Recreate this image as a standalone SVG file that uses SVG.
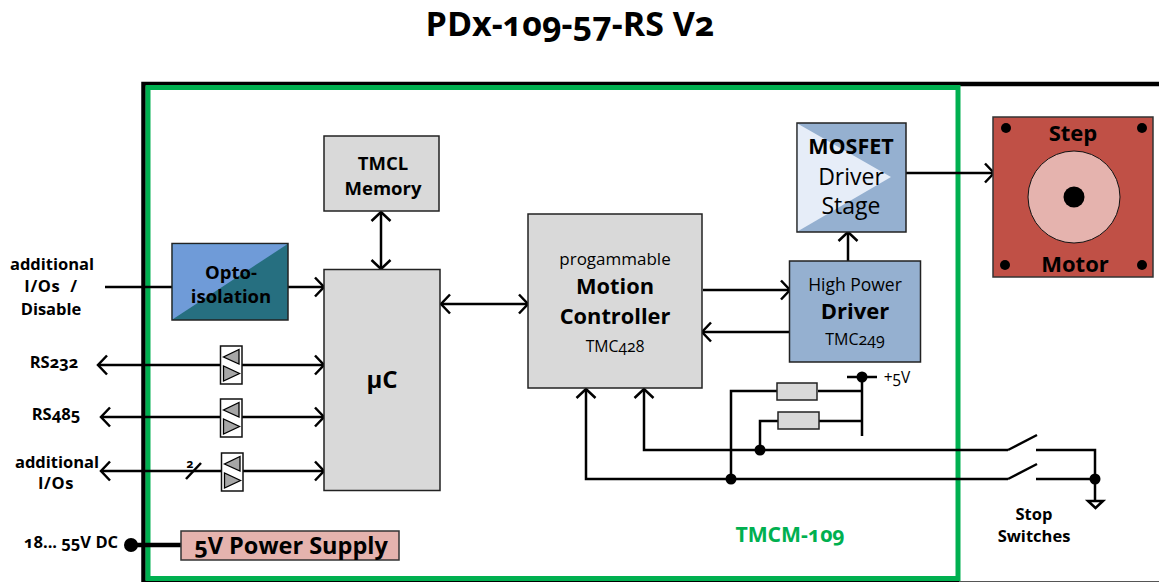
<svg xmlns="http://www.w3.org/2000/svg" width="1159" height="582" viewBox="0 0 1159 582">
<style>
text{font-family:"Open Sans","Lato","Noto Sans",sans-serif;font-variant-numeric:oldstyle-nums;fill:#000;text-anchor:middle}
.b{font-weight:700}
.box{stroke:#222;stroke-width:1.5}
.grey{fill:#d9d9d9}
.blue{fill:#95b0d0}
.w{fill:none;stroke:#000;stroke-width:2.5}
.a{marker-end:url(#ah)}
.ab{marker-start:url(#ah);marker-end:url(#ah)}
.tx{fill:#fff;stroke:#111;stroke-width:1.5}
.tri{fill:#a6a6a6;stroke:#000;stroke-width:1.3}
</style>
<defs>
<marker id="ah" markerUnits="userSpaceOnUse" markerWidth="24" markerHeight="24" refX="11" refY="12" orient="auto-start-reverse" viewBox="0 0 24 24"><path d="M2,2.500L11,12L2,21.500" fill="none" stroke="#000" stroke-width="2.500"/></marker>
<g id="tr"><rect class="tx" x="0" y="0" width="21.500" height="38"/><path class="tri" d="M18.500,3.500V18L3,11Z"/><path class="tri" d="M3,20V35L19,27.500Z"/></g>
</defs>
<text class="b" x="570" y="36" font-size="34">PDx-109-57-RS V2</text>
<g id="frame"><path d="M143.500,582V84H1159" fill="none" stroke="#000" stroke-width="4.500"/><path d="M143,581.200H959" stroke="#000" stroke-width="2"/><path d="M959,581.500H1159" stroke="#555" stroke-width="1"/></g>
<g id="module"><rect x="148" y="87.500" width="810" height="491" fill="none" stroke="#00b050" stroke-width="5"/>
<text class="b" x="790" y="542" font-size="21.200" style="fill:#00b050">TMCM-109</text></g>
<g id="connectors">
<path class="w a" d="M105,287H324"/>
<path class="w ab" d="M98,365H324"/>
<path class="w ab" d="M101,417H324"/>
<path class="w ab" d="M101,471H324"/>
<path class="w" d="M186,479L201,463"/>
<path class="w ab" d="M381,212V269"/>
<path class="w ab" d="M441,304H528"/>
<path class="w a" d="M703,290H790"/>
<path class="w a" d="M790,332H702"/>
<path class="w a" d="M848,261V232"/>
<path class="w a" d="M906,173H994"/>
<path d="M131,545H181" stroke="#000" stroke-width="4.500"/>
<circle cx="131" cy="545" r="7"/>
<path class="w a" d="M1008,479H586V389"/>
<path class="w a" d="M1008,450H644V389"/>
<path class="w" d="M1008,450L1037,435M1036,450H1095V501M1008,479L1037,464M1036,479H1095"/>
<path class="w" d="M731,479V391H778M818,391H862M847,377H877M862,377V436M760,450V421H778M818,421H862"/>
<circle cx="862" cy="377" r="5.500"/><circle cx="760" cy="450" r="5.500"/><circle cx="731" cy="479" r="5.500"/><circle cx="1095" cy="479" r="5.500"/>
<path d="M1088,501H1103L1095.500,508Z" fill="#fff" stroke="#000" stroke-width="2.500"/>
</g>
<g id="opto"><rect class="box" x="172" y="243.500" width="116" height="76.500" fill="#266f80"/><path d="M172.800,319.300V244.300H287.200Z" fill="#6f9bd8"/>
<text class="b" x="231" y="279" font-size="18.500">Opto-</text><text class="b" x="231" y="303" font-size="18.500">isolation</text></g>
<g id="memory"><rect class="box grey" x="324" y="136" width="115" height="75"/>
<text class="b" x="383" y="170" font-size="18.500">TMCL</text><text class="b" x="383" y="195" font-size="18.500">Memory</text></g>
<g id="uc"><rect class="box grey" x="324" y="269.500" width="116" height="221"/>
<text class="b" x="382" y="388" font-size="24">µC</text></g>
<g id="controller"><rect class="box grey" x="528" y="214" width="174" height="174"/>
<text x="615" y="265" font-size="17">progammable</text>
<text class="b" x="615" y="294" font-size="21.800">Motion</text><text class="b" x="615" y="324" font-size="21.800">Controller</text>
<text x="615" y="352" font-size="15.800">TMC428</text></g>
<g id="driver"><rect class="box blue" x="789.500" y="261" width="131" height="101"/>
<text x="855" y="291" font-size="17.500">High Power</text><text class="b" x="855" y="319" font-size="22">Driver</text><text x="855" y="345" font-size="16">TMC249</text></g>
<g id="mosfet"><rect class="box blue" x="797" y="123" width="109" height="109"/><path d="M797.800,123.800L891,177L797.800,231.200Z" fill="#e6edf8"/>
<text class="b" x="851" y="154" font-size="21.500">MOSFET</text><text x="851" y="185" font-size="23">Driver</text><text x="851" y="214" font-size="23">Stage</text></g>
<g id="motor"><rect x="993" y="117" width="160" height="160" fill="#c05046" stroke="#333" stroke-width="1.500"/>
<circle cx="1074" cy="197" r="46" fill="#e5b3ae" stroke="#111" stroke-width="1"/><circle cx="1074" cy="197" r="10.500"/>
<circle cx="1006" cy="128" r="5"/><circle cx="1142" cy="128" r="5"/><circle cx="1005" cy="265" r="5"/><circle cx="1142" cy="265" r="5"/>
<text class="b" x="1073" y="141" font-size="22">Step</text><text class="b" x="1075" y="272" font-size="22">Motor</text></g>
<g id="supply"><rect x="181" y="531" width="218" height="29" fill="#e5b3ae" stroke="#333" stroke-width="1.500"/>
<text class="b" x="291" y="554" font-size="23.500">5V Power Supply</text></g>
<use id="t1" href="#tr" x="220.500" y="346"/><use id="t2" href="#tr" x="220.500" y="399"/><use id="t3" href="#tr" x="221.500" y="453"/>
<g id="r1"><rect class="box grey" x="777" y="383" width="40" height="17"/></g>
<g id="r2"><rect class="box grey" x="778" y="412" width="41" height="17"/></g>
<g id="labels">
<g class="b" font-size="16.500" font-weight="700">
<text x="52" y="270">additional</text><text x="51" y="292" word-spacing="5" letter-spacing="0.600">I/Os /</text><text x="51" y="315">Disable</text>
<text x="54" y="368">RS232</text><text x="56" y="420">RS485</text>
<text x="57" y="468">additional</text><text x="56" y="489" letter-spacing="0.600">I/Os</text>
<text x="71" y="548">18... 55V DC</text>
<text x="1034" y="520">Stop</text><text x="1034" y="542">Switches</text></g>
<text class="b" x="190" y="468" font-size="12">2</text>
<text x="897" y="383" font-size="15.500">+5V</text>
</g>
</svg>
